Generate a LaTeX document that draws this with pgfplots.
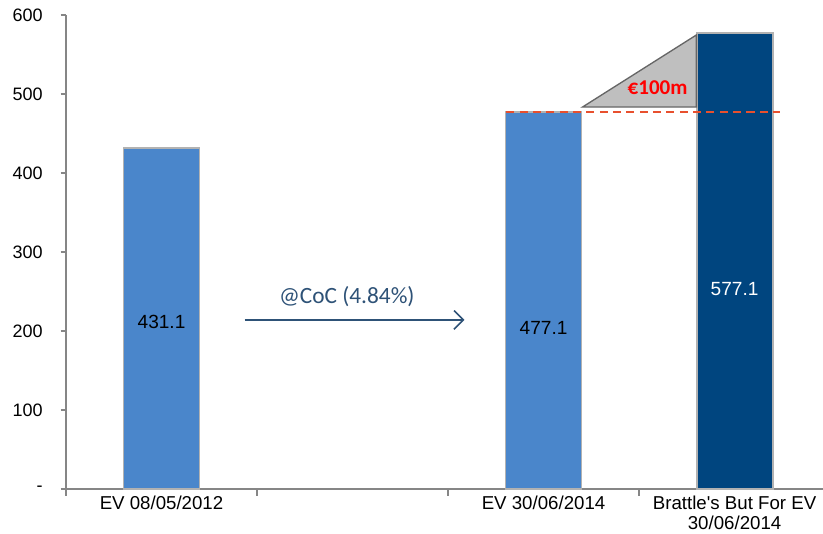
\documentclass[border=0pt]{standalone}
\usepackage{pgfplots}
\pgfplotsset{compat=1.18}
\usepackage{fontspec}
\setmainfont{Liberation Sans}
\newfontfamily\calib{Carlito}
\usetikzlibrary{arrows.meta}
\definecolor{lightbar}{HTML}{4A86CB}
\definecolor{darkbar}{HTML}{00457F}
\definecolor{axgray}{HTML}{868686}
\definecolor{arrowblue}{HTML}{2E5277}
\definecolor{dashred}{HTML}{E8502E}
\begin{document}
\begin{tikzpicture}
\useasboundingbox (-49.5pt,-33pt) rectangle (567.75pt,366.75pt);
\begin{axis}[
  at={(0,0)}, anchor=south west,
  scale only axis, width=567.75pt, height=355.5pt,
  xmin=-0.5, xmax=3.463, ymin=0, ymax=600,
  axis lines=left, axis line style={axgray, line width=1.1pt, -},
  clip=false,
  /pgf/number format/assume math mode=true,
  ytick={0,100,200,300,400,500,600},
  yticklabel={\fontsize{13.5}{15}\selectfont\ifdim\tick pt<1pt -\else\pgfmathprintnumber[fixed,precision=0,assume math mode=true]{\tick}\fi},
  ytick style={axgray, line width=1pt},
  tick align=outside, major tick length=4pt,
  xtick={0,1,2,3},
  xticklabels={EV 08/05/2012,{},EV 30/06/2014,{Brattle\textquotesingle s But For EV\\30/06/2014}},
  xtick style={draw=none},
  xticklabel style={align=center, font=\fontsize{14}{14.5}\selectfont, yshift=2pt},
  yticklabel style={xshift=-10pt},
  extra x ticks={-0.5,0.5,1.5,2.5},
  extra x tick labels={},
  extra x tick style={xtick style={axgray, line width=1pt, draw=axgray}, major tick length=5pt},
  ybar, bar width=57pt, bar shift=0pt,
]
\addplot[fill=lightbar, draw=gray!60, line width=1.4pt] coordinates {(0,431.1) (2,477.1)};
\addplot[fill=darkbar, draw=gray!60, line width=1.4pt] coordinates {(3,577.1)};

\node[font=\fontsize{14.3}{16}\selectfont] at (axis cs:0,211) {431.1};
\node[font=\fontsize{14.3}{16}\selectfont] at (axis cs:2,204) {477.1};
\node[font=\fontsize{14.3}{16}\selectfont, text=white] at (axis cs:3,253) {577.1};

\draw[arrowblue, line width=1.2pt, -{Straight Barb[length=7pt,width=14pt]}] (axis cs:0.435,214) -- (axis cs:1.586,214);
\node[text=arrowblue, font=\calib\fontsize{17.5}{19}\selectfont] at (axis cs:0.97,244) {@CoC (4.84\%)};

\draw[dashred, line width=1.1pt, dash pattern=on 6pt off 4pt] (axis cs:1.806,477.1) -- (axis cs:3.236,477.1);
\draw[fill=gray!50, draw=gray!80!black, line width=1pt] (axis cs:2.204,483.5) -- (axis cs:2.80,483.5) -- (axis cs:2.80,574.7) -- cycle;
\node[text=red, font=\calib\bfseries\fontsize{15.8}{17}\selectfont] at (axis cs:2.597,507.6) {€100m};
\end{axis}
\end{tikzpicture}
\end{document}
